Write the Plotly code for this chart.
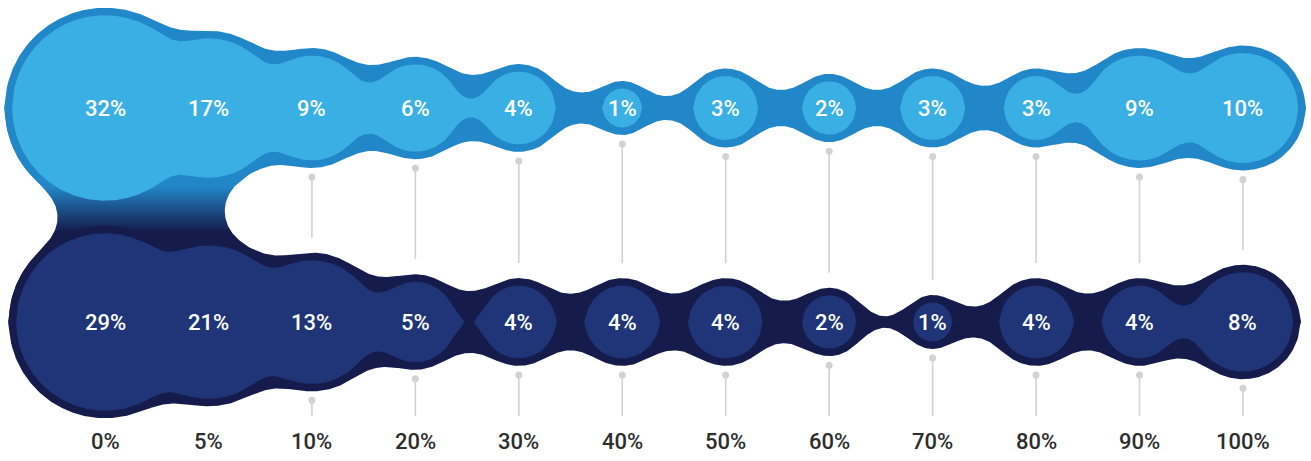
import math
import numpy as np
import plotly.graph_objects as go

# ---------------- data ----------------
categories = ["0%", "5%", "10%", "20%", "30%", "40%", "50%", "60%", "70%", "80%", "90%", "100%"]
top_values = [32, 17, 9, 6, 4, 1, 3, 2, 3, 3, 9, 10]
bottom_values = [29, 21, 13, 5, 4, 4, 4, 2, 1, 4, 4, 8]

# ---------------- style / geometry ----------------
W, H = 1311, 461
PX = 103.45                     # pixels per category step (1 data unit)
X_LEFT_PX = 105                 # pixel position of first category
ROW_TOP_PX, ROW_BOT_PX = 108, 322
LABEL_PX = 441
LINE_END_PX = 416

R_SCALE = 19.5 / PX             # inner radius = R_SCALE * value ** R_EXP
R_EXP = 0.45
BORDER = 7.5 / PX
SIG_OUT = 13 / PX
SIG_IN = 7.8 / PX
THRESH = 0.95
DU = 1.0 / PX                   # raster step
CONN_LEFT, CONN_RIGHT = 0.416, 0.131   # connector edges relative to columns 0 and 1

TOP_FILL, TOP_BORDER = "#3AAFE4", "#2287C9"
BOT_FILL, BOT_BORDER = "#1F3577", "#151B4B"
GRAY = "#D2D2D2"
LABEL_COLOR = "#2D2D2D"
FONT = "Roboto, sans-serif"

TOP_Y = 0.0
BOT_Y = -(ROW_BOT_PX - ROW_TOP_PX) / PX

xs_cat = np.arange(len(categories), dtype=float)


def norm_ppf(p):
    lo, hi = -10.0, 10.0
    for _ in range(100):
        mid = 0.5 * (lo + hi)
        if 0.5 * (1 + math.erf(mid / math.sqrt(2))) < p:
            lo = mid
        else:
            hi = mid
    return 0.5 * (lo + hi)


def radii(values):
    return R_SCALE * np.asarray(values, dtype=float) ** R_EXP


def radial_field(rho, R0, s):
    t = np.linspace(0.0, 1.0, 1201)
    r = R0[:, None] * t[None, :]
    rr = rho[:, None]
    integ = r / s ** 2 * np.exp(-(r ** 2 + rr ** 2) / (2 * s ** 2)) * np.i0(r * rr / s ** 2)
    return np.trapezoid(integ, r, axis=1)


def calibrate(R_target, s):
    R_target = np.asarray(R_target, dtype=float)
    lo = R_target.copy()
    hi = R_target + 5 * s
    for _ in range(50):
        mid = 0.5 * (lo + hi)
        f = radial_field(R_target, mid, s)
        big = f > THRESH
        hi = np.where(big, mid, hi)
        lo = np.where(big, lo, mid)
    return 0.5 * (lo + hi)


def gblur(a, sp):
    for axis in (0, 1):
        n = a.shape[axis]
        rad = int(np.ceil(4 * sp))
        k = np.exp(-0.5 * (np.arange(-rad, rad + 1) / sp) ** 2)
        k /= k.sum()
        N = n + 2 * rad + 1
        A = np.fft.rfft(a, N, axis=axis)
        K = np.fft.rfft(k, N)
        K = K[:, None] if axis == 0 else K[None, :]
        c = np.fft.irfft(A * K, N, axis=axis)
        a = np.take(c, np.arange(rad, rad + n), axis=axis)
    return a


def disk_raster(X, Y, cx, cy, R0):
    ind = np.zeros_like(X)
    for x0, y0, r0 in zip(cx, cy, R0):
        d = np.sqrt((X - x0) ** 2 + (Y - y0) ** 2)
        ind = np.maximum(ind, np.clip((r0 - d) / DU + 0.5, 0, 1))
    return ind


def row_shape(values, extra, sigma, cy):
    Rt = radii(values) + extra
    R0 = calibrate(Rt, sigma)
    xg = np.arange(-2.3, 13.0, DU)
    ny = int(np.ceil(2.0 / DU))
    yg = np.arange(-ny, ny + 1) * DU
    X, Y = np.meshgrid(xg, yg)
    f = gblur(disk_raster(X, Y, xs_cat, np.zeros_like(xs_cat), R0), sigma / DU)
    fh = f[ny:, :]
    yh = yg[ny:]
    below = fh < THRESH
    idx = below.argmax(axis=0)
    idx = np.clip(idx, 1, len(yh) - 1)
    cols = np.arange(fh.shape[1])
    f0 = fh[idx - 1, cols]
    f1 = fh[idx, cols]
    h = yh[idx - 1] + (f0 - THRESH) / np.maximum(f0 - f1, 1e-9) * DU
    h = np.where(fh[0] < THRESH, 0.0, h)
    h = np.where(h < 0.4 * DU, 0.0, h)
    pos = h > 0
    px, py = [], []
    j = 0
    n = len(h)
    while j < n:
        if not pos[j]:
            j += 1
            continue
        k = j
        while k < n and pos[k]:
            k += 1
        a, b = max(j - 1, 0), min(k, n - 1)
        xs, hs = xg[a:b + 1], h[a:b + 1]
        px += list(np.concatenate([xs, xs[::-1]])) + [None]
        py += list(np.concatenate([cy + hs, (cy - hs)[::-1]])) + [None]
        j = k
    return px, py


def connector_shape(sigma):
    Rt_top = radii(top_values[:2]) + BORDER
    Rt_bot = radii(bottom_values[:2]) + BORDER
    R0t = calibrate(Rt_top, sigma)
    R0b = calibrate(Rt_bot, sigma)
    grow = sigma * norm_ppf(THRESH)
    xa, xb = xs_cat[0] - CONN_LEFT - grow, xs_cat[1] + CONN_RIGHT + grow
    xg = np.arange(-2.2, 3.4, DU)
    yg = np.arange(BOT_Y - 1.4, TOP_Y + 1.4, DU)
    X, Y = np.meshgrid(xg, yg)
    ind = disk_raster(X, Y, np.r_[xs_cat[:2], xs_cat[:2]], np.r_[[TOP_Y] * 2, [BOT_Y] * 2], np.r_[R0t, R0b])
    rect = np.clip((np.minimum(X - xa, xb - X)) / DU + 0.5, 0, 1) * ((Y <= TOP_Y) & (Y >= BOT_Y))
    f = gblur(np.maximum(ind, rect), sigma / DU)
    xm = 0.5 * (xa + xb)
    jm = int(np.argmin(np.abs(xg - xm)))
    left, right, ys = [], [], []
    for k, yv in enumerate(yg):
        if yv > TOP_Y or yv < BOT_Y:
            continue
        row = f[k]
        if row[jm] < THRESH:
            continue
        inside = row >= THRESH
        lo_idx = np.nonzero(~inside[:jm])[0]
        hi_idx = np.nonzero(~inside[jm:])[0]
        if len(lo_idx):
            j = lo_idx[-1]
            xl = xg[j] + (THRESH - row[j]) / (row[j + 1] - row[j]) * DU
        else:
            xl = xg[0]
        if len(hi_idx):
            j = jm + hi_idx[0]
            xr = xg[j - 1] + (row[j - 1] - THRESH) / (row[j - 1] - row[j]) * DU
        else:
            xr = xg[-1]
        left.append(xl)
        right.append(xr)
        ys.append(yv)
    px = left + right[::-1]
    py = ys + ys[::-1]
    return px, py


fig = go.Figure()

# ---- gray leader lines (drawn first, under the shapes) ----
R_top_out = radii(top_values) + BORDER
R_bot_out = radii(bottom_values) + BORDER
gap_dot, gap_end = 9 / PX, 15 / PX
y_line_end = -(LINE_END_PX - ROW_TOP_PX) / PX
for i in range(len(categories)):
    y0 = TOP_Y - R_top_out[i] - gap_dot
    y1 = BOT_Y + R_bot_out[i] + gap_end
    if y0 - y1 > 8 / PX:
        fig.add_trace(go.Scatter(x=[xs_cat[i], xs_cat[i]], y=[y0, y1], mode="lines",
                                 line=dict(color=GRAY, width=1.6), hoverinfo="skip", showlegend=False))
        fig.add_trace(go.Scatter(x=[xs_cat[i]], y=[y0], mode="markers",
                                 marker=dict(color=GRAY, size=7), hoverinfo="skip", showlegend=False))
    y0 = BOT_Y - R_bot_out[i] - gap_dot
    if y0 - y_line_end > 8 / PX:
        fig.add_trace(go.Scatter(x=[xs_cat[i], xs_cat[i]], y=[y0, y_line_end], mode="lines",
                                 line=dict(color=GRAY, width=1.6), hoverinfo="skip", showlegend=False))
        fig.add_trace(go.Scatter(x=[xs_cat[i]], y=[y0], mode="markers",
                                 marker=dict(color=GRAY, size=7), hoverinfo="skip", showlegend=False))


def add_poly(px, py, color):
    fig.add_trace(go.Scatter(x=px, y=py, mode="lines", fill="toself", fillcolor=color,
                             line=dict(width=0, color=color), connectgaps=False,
                             hoverinfo="skip", showlegend=False))


tx, ty = row_shape(top_values, BORDER, SIG_OUT, TOP_Y)
add_poly(tx, ty, TOP_BORDER)

cx, cy = connector_shape(SIG_OUT)
fig.add_trace(go.Scatter(x=cx, y=cy, mode="lines", fill="toself",
                         fillgradient=dict(type="vertical",
                                           colorscale=[[0, BOT_BORDER], [1, TOP_BORDER]],
                                           start=-(232 - ROW_TOP_PX) / PX,
                                           stop=-(186 - ROW_TOP_PX) / PX),
                         line=dict(width=0), hoverinfo="skip", showlegend=False))

tx, ty = row_shape(top_values, 0.0, SIG_IN, TOP_Y)
add_poly(tx, ty, TOP_FILL)

bx, by = row_shape(bottom_values, BORDER, SIG_OUT, BOT_Y)
add_poly(bx, by, BOT_BORDER)
bx, by = row_shape(bottom_values, 0.0, SIG_IN, BOT_Y)
add_poly(bx, by, BOT_FILL)

annotations = []
for i, c in enumerate(categories):
    annotations.append(dict(x=xs_cat[i], y=TOP_Y, text=f"{top_values[i]}%", showarrow=False,
                            font=dict(family=FONT, size=22, weight=500, color="white"), xref="x", yref="y"))
    annotations.append(dict(x=xs_cat[i], y=BOT_Y, text=f"{bottom_values[i]}%", showarrow=False,
                            font=dict(family=FONT, size=22, weight=500, color="white"), xref="x", yref="y"))
    annotations.append(dict(x=xs_cat[i], y=-(LABEL_PX - ROW_TOP_PX) / PX, text=c, showarrow=False,
                            font=dict(family=FONT, size=22, weight=500, color=LABEL_COLOR), xref="x", yref="y"))

fig.update_layout(
    width=W, height=H, margin=dict(l=0, r=0, t=0, b=0),
    paper_bgcolor="white", plot_bgcolor="white", hovermode=False,
    xaxis=dict(range=[-X_LEFT_PX / PX, (W - X_LEFT_PX) / PX], visible=False, fixedrange=True),
    yaxis=dict(range=[-(H - ROW_TOP_PX) / PX, ROW_TOP_PX / PX], visible=False, fixedrange=True),
    annotations=annotations, showlegend=False,
)
fig.write_html("out.html")
